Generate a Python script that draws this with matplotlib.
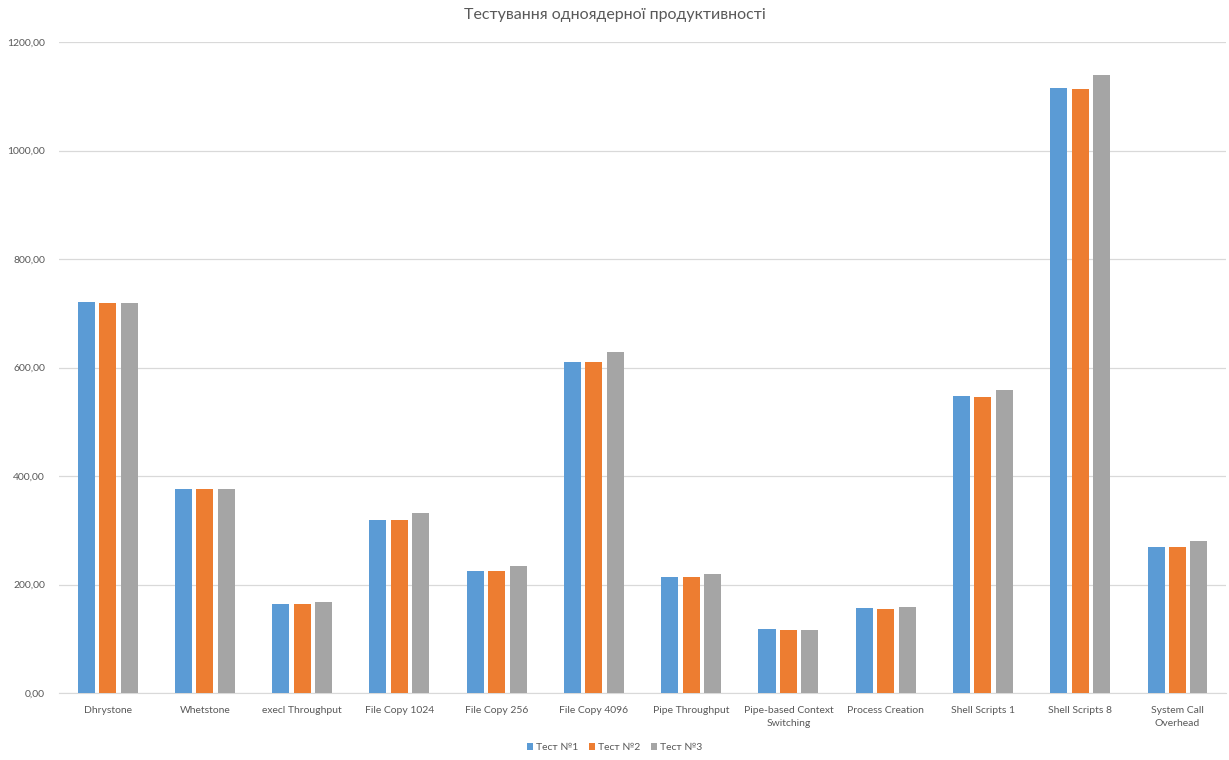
import matplotlib
matplotlib.use("Agg")
import matplotlib.pyplot as plt
import numpy as np

plt.rcParams["font.family"] = ["Lato", "DejaVu Sans"]

# ── data ─────────────────────────────────────────────────────────────────────
categories = [
    "Dhrystone", "Whetstone", "execl Throughput", "File Copy 1024",
    "File Copy 256", "File Copy 4096", "Pipe Throughput",
    "Pipe-based Context\nSwitching", "Process Creation", "Shell Scripts 1",
    "Shell Scripts 8", "System Call\nOverhead",
]
test1 = [720.2, 375.5, 163.5, 319.0, 224.9, 609.6, 214.4, 117.6, 156.1, 547.5, 1115.8, 268.5]
test2 = [718.3, 375.5, 163.5, 319.0, 224.9, 609.6, 214.4, 115.7, 154.2, 545.6, 1114.0, 268.5]
test3 = [718.3, 375.5, 168.3, 332.4, 234.1, 629.2, 219.4, 115.7, 158.5, 557.9, 1140.4, 279.6]
series_names = ["Тест №1", "Тест №2", "Тест №3"]
yticks = [0, 200, 400, 600, 800, 1000, 1200]

COLORS = ["#5B9BD5", "#ED7D31", "#A5A5A5"]
TXT = "#595959"

# ── figure ───────────────────────────────────────────────────────────────────
fig = plt.figure(figsize=(12.29, 7.6), dpi=100)
ax = fig.add_axes([0.048, 0.088, 0.9496, 0.8565])

x = np.arange(len(categories))
W = 0.175
STEP = 0.22
for i, (vals, name) in enumerate(zip([test1, test2, test3], series_names)):
    ax.bar(x + (i - 1) * STEP, vals, width=W, color=COLORS[i], label=name, zorder=3)

ax.set_xlim(-0.5, len(categories) - 0.5)
ax.set_ylim(0, 1200)
ax.set_yticks(yticks)
ax.set_yticklabels([f"{v:.2f}".replace(".", ",") for v in yticks], fontsize=7.5, color=TXT)
ax.set_xticks(x)
ax.set_xticklabels(categories, fontsize=7.5, color=TXT, linespacing=1.6)
ax.tick_params(axis="x", length=0, pad=9)
ax.tick_params(axis="y", length=0, pad=10)
ax.grid(axis="y", color="#D9D9D9", linewidth=0.9, zorder=0)
for s in ["top", "right", "left"]:
    ax.spines[s].set_visible(False)
ax.spines["bottom"].set_color("#D9D9D9")

fig.suptitle("Тестування одноядерної продуктивності", y=0.99, fontsize=11.5, color=TXT)

fig.legend(loc="center", bbox_to_anchor=(0.5, 0.016), ncol=3, frameon=False,
           fontsize=7.5, handlelength=0.6, handleheight=0.6, handletextpad=0.3,
           columnspacing=1.0, labelcolor=TXT)

fig.savefig("out.png", dpi=100)
